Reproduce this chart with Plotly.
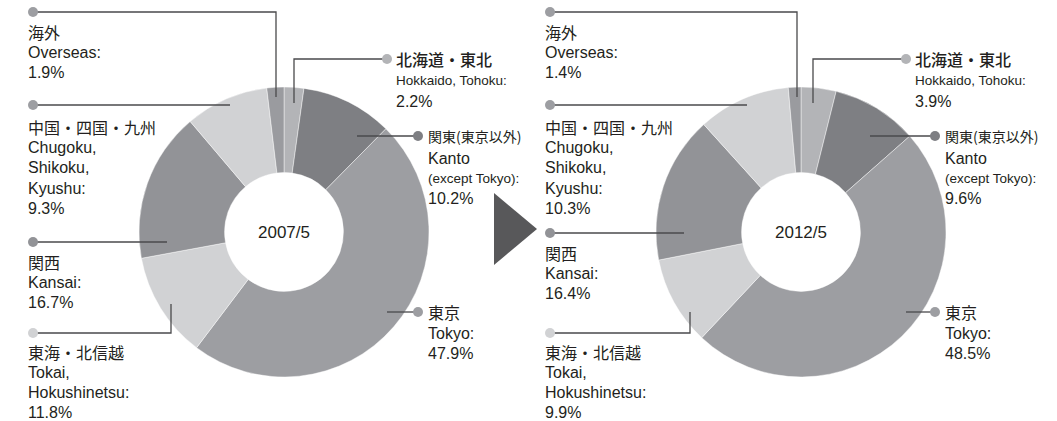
import plotly.graph_objects as go

W, H = 1057, 421

# ---------------- data ----------------
regions_ja = ["北海道・東北", "関東(東京以外)", "東京", "東海・北信越", "関西", "中国・四国・九州", "海外"]
regions_en = [["Hokkaido, Tohoku:"], ["Kanto", "(except Tokyo):"], ["Tokyo:"],
              ["Tokai,", "Hokushinetsu:"], ["Kansai:"], ["Chugoku,", "Shikoku,", "Kyushu:"], ["Overseas:"]]
share_2007 = [2.2, 10.2, 47.9, 11.8, 16.7, 9.3, 1.9]
share_2012 = [3.9, 9.6, 48.5, 9.9, 16.4, 10.3, 1.4]
periods = ["2007/5", "2012/5"]

# ---------------- styles ----------------
slice_colors = ["#b3b4b7", "#7e7f83", "#9d9ea2", "#d1d2d4", "#929397", "#d1d2d4", "#9a9b9f"]
dot_colors = ["#b3b4b7", "#7e7f83", "#9d9ea2", "#d1d2d4", "#929397", "#9d9ea2", "#9d9ea2"]
TXT = "#231f20"
LINE = "#4a4a4c"
JP = "Noto Sans CJK JP"
EN = "Liberation Sans, Arial, sans-serif"

# donut geometry (pixels)
centers = [(284, 232), (801, 232)]
R = 145
HOLE = 0.41

# label layout per chart: dot pos, leader path points (corner, end), text x, line y's
layouts = [
    {
        0: dict(dot=(387, 59), path=[(294, 59), (294, 103)], tx=396, ys=[59, 80, 101]),
        1: dict(dot=(418, 136), path=[(357, 136)], tx=428, ys=[136, 158, 178, 198]),
        2: dict(dot=(418, 312), path=[(387, 312)], tx=428, ys=[312, 333, 353]),
        3: dict(dot=(33, 333), path=[(171, 333), (171, 304)], tx=28, ys=[352, 372, 392, 412]),
        4: dict(dot=(33, 242), path=[(167, 242)], tx=28, ys=[262, 282, 302]),
        5: dict(dot=(33, 105), path=[(230, 105)], tx=28, ys=[127, 147, 167, 188, 208]),
        6: dict(dot=(33, 12), path=[(276, 12), (276, 97)], tx=28, ys=[32, 52, 72]),
    },
    {
        0: dict(dot=(906, 59), path=[(813, 59), (813, 103)], tx=915, ys=[59, 80, 101]),
        1: dict(dot=(935, 136), path=[(870, 136)], tx=945, ys=[136, 158, 178, 198]),
        2: dict(dot=(935, 312), path=[(906, 312)], tx=945, ys=[312, 333, 353]),
        3: dict(dot=(550, 333), path=[(690, 333), (690, 312)], tx=545, ys=[352, 372, 392, 412]),
        4: dict(dot=(550, 233), path=[(684, 233)], tx=545, ys=[253, 273, 293]),
        5: dict(dot=(550, 105), path=[(747, 105)], tx=545, ys=[127, 147, 167, 188, 208]),
        6: dict(dot=(550, 12), path=[(797, 12), (797, 97)], tx=545, ys=[32, 52, 72]),
    },
]

fig = go.Figure()

for ci, vals in enumerate([share_2007, share_2012]):
    cx, cy = centers[ci]
    fig.add_trace(go.Pie(
        labels=regions_ja, values=vals, sort=False, direction="clockwise", rotation=0,
        hole=HOLE, textinfo="none", hoverinfo="label+percent",
        marker=dict(colors=slice_colors, line=dict(color="rgba(255,255,255,0.55)", width=0.8)),
        domain=dict(x=[(cx - R) / W, (cx + R) / W], y=[1 - (cy + R) / H, 1 - (cy - R) / H]),
        showlegend=False,
    ))

# hidden pixel axes
fig.update_xaxes(range=[0, W], visible=False, fixedrange=True)
fig.update_yaxes(range=[H, 0], visible=False, fixedrange=True)

shapes = []
annos = []
for ci, vals in enumerate([share_2007, share_2012]):
    cx, cy = centers[ci]
    annos.append(dict(x=cx, y=cy, xref="x", yref="y", text=periods[ci], showarrow=False,
                      font=dict(family=EN, size=17, color=TXT), xanchor="center", yanchor="middle"))
    for i in range(len(regions_ja)):
        L = layouts[ci][i]
        dx, dy = L["dot"]
        pts = [L["dot"]] + L["path"]
        d = "M {} {}".format(*pts[0]) + "".join(" L {} {}".format(*p) for p in pts[1:])
        shapes.append(dict(type="path", path=d, xref="x", yref="y",
                           line=dict(color=LINE, width=1.3), layer="above"))
        shapes.append(dict(type="circle", xref="x", yref="y", x0=dx - 5, x1=dx + 5, y0=dy - 5, y1=dy + 5,
                           fillcolor=dot_colors[i], line=dict(width=0), layer="above"))
        lines = [(regions_ja[i], "jp")] + [(t, "en") for t in regions_en[i]] + [(f"{vals[i]}%", "pct")]
        for k, (t, kind) in enumerate(lines):
            if kind == "jp":
                if i == 1:
                    f = dict(family=JP, size=14, color=TXT)
                elif i == 0:
                    f = dict(family=JP, size=16, color=TXT, weight=500)
                else:
                    f = dict(family=JP, size=16, color=TXT)
            elif kind == "en" and (i == 0 or (i == 1 and k == 2)):
                f = dict(family=EN, size=13.5, color=TXT)
            else:
                f = dict(family=EN, size=16, color=TXT)
            annos.append(dict(x=L["tx"], y=L["ys"][k], xref="x", yref="y", text=t, showarrow=False,
                              font=f, xanchor="left", yanchor="middle", align="left",
                              borderpad=0, xshift=-1))

# arrow triangle between donuts
shapes.append(dict(type="path", path="M 494 193 L 537 229 L 494 265 Z", xref="x", yref="y",
                   fillcolor="#58585a", line=dict(width=0), layer="above"))

fig.update_layout(
    width=W, height=H, margin=dict(l=0, r=0, t=0, b=0),
    paper_bgcolor="white", plot_bgcolor="white",
    shapes=shapes, annotations=annos,
    xaxis=dict(domain=[0, 1]), yaxis=dict(domain=[0, 1]),
)

fig.write_html("out.html", config={"displayModeBar": False},
               post_script="document.body.style.margin='0';document.body.style.overflow='hidden';")
